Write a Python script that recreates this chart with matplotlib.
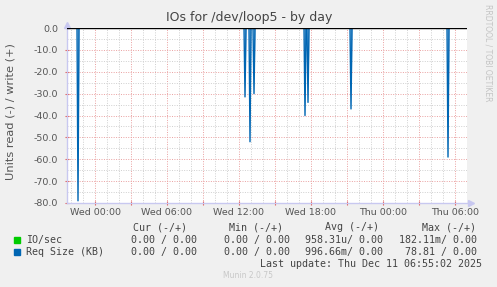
import matplotlib
matplotlib.use("Agg")
import matplotlib.pyplot as plt
import matplotlib.dates as mdates
from matplotlib.patches import Rectangle
import numpy as np
import datetime as dt

# data
spike_times = ["2025-12-09 22:35", "2025-12-10 12:30", "2025-12-10 12:55",
               "2025-12-10 13:15", "2025-12-10 17:30", "2025-12-10 17:45",
               "2025-12-10 21:20", "2025-12-11 05:25"]
spike_values = [-79.0, -31.5, -52.0, -30.0, -40.0, -34.0, -37.0, -59.0]

start = "2025-12-09 21:40"
end = "2025-12-11 07:00"

legend_names = ["IO/sec", "Req Size (KB)"]
legend_colors = ["#00cc00", "#0066b3"]
col_headers = ["Cur (-/+)", "Min (-/+)", "Avg (-/+)", "Max (-/+)"]
cur_vals = ["0.00 / 0.00", "0.00 / 0.00"]
min_vals = ["0.00 / 0.00", "0.00 / 0.00"]
avg_vals = ["958.31u/ 0.00", "996.66m/ 0.00"]
max_vals = ["182.11m/ 0.00", "78.81 / 0.00"]
last_update = "Last update: Thu Dec 11 06:55:02 2025"

W, H = 497, 287
def fx(x):
    return x / W
def fy(y):
    return 1 - y / H

fmt = "%Y-%m-%d %H:%M"
t0 = dt.datetime.strptime(start, fmt)
t1 = dt.datetime.strptime(end, fmt)
step = dt.timedelta(minutes=5)

# build the line: zero everywhere except the 5-min samples with reads
ts = [t0]
vs = [0.0]
for s, v in zip(spike_times, spike_values):
    t = dt.datetime.strptime(s, fmt)
    ts += [t - step, t, t + step]
    vs += [0.0, v, 0.0]
ts.append(t1 - step)
vs.append(0.0)

fig = plt.figure(figsize=(W / 100, H / 100), dpi=100, facecolor="#f0f0f0")
ax = fig.add_axes([fx(67), fy(203), 400 / W, 175 / H])
ax.set_facecolor("white")

ax.fill_between(ts, vs, 0, color="#7fb0dc", lw=0)
ax.plot(ts, vs, color="#0066b3", lw=1.0)
ax.axhline(0, color="black", lw=1.0, zorder=5)

ax.set_xlim(t0, t1)
ax.set_ylim(-80, 0)

# grid: red major, gray minor, both dotted
ax.xaxis.set_major_locator(mdates.HourLocator(byhour=range(0, 24, 3)))
ax.xaxis.set_minor_locator(mdates.HourLocator())
def xlab(x, pos):
    d = mdates.num2date(x)
    if d.hour % 6 == 0:
        return d.strftime("%a %H:%M")
    return ""
ax.xaxis.set_major_formatter(plt.FuncFormatter(xlab))
ax.yaxis.set_major_locator(plt.MultipleLocator(10))
ax.yaxis.set_minor_locator(plt.MultipleLocator(5))
ax.yaxis.set_major_formatter(plt.FuncFormatter(lambda v, p: "%.1f" % v))

ax.grid(which="minor", color="#cfcfcf", ls=(0, (1, 1.5)), lw=0.7)
ax.grid(which="major", color="#eaa0a0", ls=(0, (1, 1.5)), lw=0.7)
ax.set_axisbelow(True)

ax.tick_params(which="major", length=3, width=0.8, color="#e06060", direction="inout",
               labelsize=6.8, labelcolor="#555555", pad=2)
ax.tick_params(which="minor", length=0)
ax.tick_params(axis="y", pad=5)

for s in ["top", "right"]:
    ax.spines[s].set_visible(False)
for s in ["left", "bottom"]:
    ax.spines[s].set_color("#c8c8f0")
    ax.spines[s].set_linewidth(1.0)
ax.plot([0], [1.02], marker="^", color="#c8c8f0", ms=5, transform=ax.transAxes, clip_on=False)
ax.plot([1.01], [0], marker=">", color="#c8c8f0", ms=5, transform=ax.transAxes, clip_on=False)

fig.text(fx(249), fy(18), "IOs for /dev/loop5 - by day", ha="center", va="center",
         fontsize=9, color="#444444")
fig.text(fx(11), fy(112), "Units read (-) / write (+)", rotation=90, ha="center",
         va="center", fontsize=8.2, color="#555555")
fig.text(fx(488), fy(53), "RRDTOOL / TOBI OETIKER", rotation=270, ha="center",
         va="center", fontsize=5.5, color="#c4c4c4")

mono = dict(family="DejaVu Sans Mono", fontsize=7.2, color="#444444", va="center")
head_right = [187, 283, 379, 476]
val_right = [197, 290, 383, 477]
for h, x in zip(col_headers, head_right):
    fig.text(fx(x), fy(227), h, ha="right", **mono)

rows_y = [240, 252]
for i in range(2):
    fig.patches.append(Rectangle((fx(14), fy(rows_y[i] + 3)), 6 / W, 6 / H,
                                 transform=fig.transFigure, color=legend_colors[i]))
    fig.text(fx(26), fy(rows_y[i]), legend_names[i], ha="left", **mono)
    for col, x in zip([cur_vals, min_vals, avg_vals, max_vals], val_right):
        fig.text(fx(x), fy(rows_y[i]), col[i], ha="right", **mono)

fig.text(fx(482), fy(264), last_update, ha="right", **mono)
fig.text(fx(248), fy(276), "Munin 2.0.75", ha="center", va="center",
         fontsize=5.5, color="#c8c8c8")

fig.savefig("out.png", dpi=100, facecolor=fig.get_facecolor())
